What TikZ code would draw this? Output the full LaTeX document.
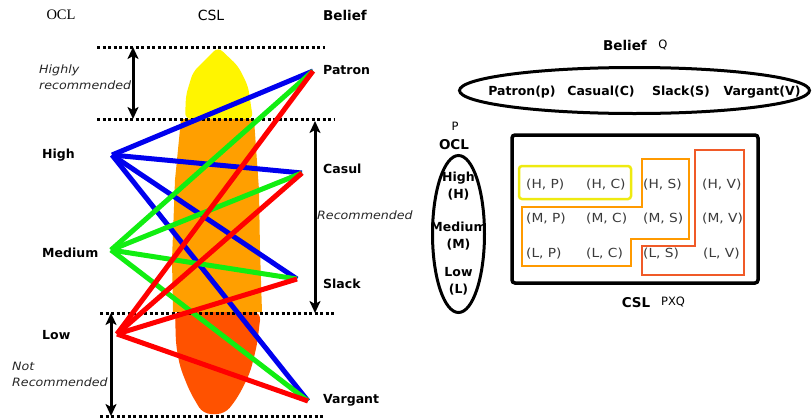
\documentclass[tikz,border=0pt]{standalone}
\usepackage{fontspec}
\setmainfont{DejaVu Sans}
\newfontfamily\headserif{Liberation Serif}
\newfontfamily\widesans[FakeStretch=1.1]{DejaVu Sans}
\usetikzlibrary{arrows.meta,shapes.geometric}

\definecolor{cslyellow}{HTML}{FFF500}
\definecolor{cslorange}{HTML}{FF9F00}
\definecolor{cslred}{HTML}{FF5200}
\definecolor{lnblue}{HTML}{0000EE}
\definecolor{lngreen}{HTML}{11EE11}
\definecolor{lnred}{HTML}{FF0000}
\definecolor{boxyellow}{HTML}{EEEA10}
\definecolor{boxorange}{HTML}{FF9A00}
\definecolor{boxred}{HTML}{F05A28}
\definecolor{celltext}{HTML}{3A3A3A}

\tikzset{
  boldlbl/.style={font=\bfseries\fontsize{12.5}{15}\selectfont, inner sep=0pt},
  headlbl/.style={font=\bfseries\fontsize{13.5}{15}\selectfont, inner sep=0pt},
  plainlbl/.style={font=\fontsize{11.5}{13}\selectfont, inner sep=0pt},
  zonelbl/.style={font=\widesans\itshape\fontsize{11.5}{16}\selectfont, text=black!85, inner sep=0pt, align=left},
  celllbl/.style={font=\widesans\fontsize{12.5}{14}\selectfont, text=celltext, inner sep=0pt, anchor=west},
  boundary/.style={line width=3pt, dash pattern=on 3pt off 2.5pt},
  span/.style={line width=3pt, arrows={Stealth[length=12pt,width=11pt,inset=3pt]-Stealth[length=12pt,width=11pt,inset=3pt]}},
  link/.style={line width=5pt},
  group/.style={line width=2.5pt},
}

\begin{document}
\begin{tikzpicture}[x=1pt,y=-1pt]
\useasboundingbox (0,0) rectangle (812,418);

% ---------- CSL level bands ----------
\fill[cslyellow, rounded corners=6pt]
  (185,119) -- (186,95) -- (193,72) -- (218,47) -- (238,66) -- (248,86) -- (253,119) -- cycle;
\fill[cslorange]
  (181,119) -- (175,180) -- (172,260) -- (173,312) -- (262,312) -- (260,250) -- (259,190) -- (254,119) -- cycle;
\fill[cslred, rounded corners=8pt]
  (175,312) -- (176,345) -- (180,367) -- (190,392) -- (203,414) -- (225,414) -- (238,397) -- (250,373) -- (257,345) -- (261,312) -- cycle;

% ---------- recommendation boundaries ----------
\draw[boundary] (97,47) -- (325,47);
\draw[boundary] (97,119) -- (335,119);
\draw[boundary] (100,313) -- (335,313);
\draw[boundary] (100,416) -- (325,416);

% ---------- headers ----------
\node[font=\headserif\fontsize{14.5}{16}\selectfont, inner sep=0pt] (hocl) at (61,15) {OCL};
\node[font=\fontsize{14}{16}\selectfont, inner sep=0pt] (hcsl) at (211,15) {CSL};
\node[headlbl] (hbel) at (345,15) {Belief};

% ---------- OCL and belief points ----------
\coordinate (hi) at (112,155);
\coordinate (me) at (111,250);
\coordinate (lo) at (117,334);
\coordinate (pa) at (313,71);
\coordinate (ca) at (302,173);
\coordinate (sl) at (297,279);
\coordinate (va) at (308,401);

\node[boldlbl, anchor=west] (thi) at (42,155) {High};
\node[boldlbl, anchor=west] (tme) at (42,253) {Medium};
\node[boldlbl, anchor=west] (tlo) at (42,335) {Low};
\node[boldlbl, anchor=west] (tpa) at (323,70) {Patron};
\node[boldlbl, anchor=west] (tca) at (323,169) {Casul};
\node[boldlbl, anchor=west] (tsl) at (323,284) {Slack};
\node[boldlbl, anchor=west] (tva) at (323,400) {Vargant};

% ---------- OCL to belief links ----------
\foreach \b in {pa,ca,sl,va} \draw[link, lnblue] (hi) -- (\b);
\foreach \b in {pa,ca,sl,va} \draw[link, lngreen] (me) -- (\b);
\foreach \b in {pa,ca,sl,va} \draw[link, lnred] (lo) -- (\b);

% ---------- zone spans ----------
\coordinate (hrtop) at (133,47);
\coordinate (hrbot) at (133,119);
\coordinate (rtop) at (315,121);
\coordinate (rbot) at (315,313);
\coordinate (nrtop) at (111,313);
\coordinate (nrbot) at (111,416);
\draw[span] (hrtop) -- (hrbot);
\draw[span] (rtop) -- (rbot);
\draw[span] (nrtop) -- (nrbot);

\node[zonelbl, anchor=west] (zhr) at (39,77) {Highly\\recommended};
\node[zonelbl, anchor=west] (zr) at (317,215) {Recommended};
\node[zonelbl, anchor=west] (znr) at (12,374) {Not\\Recommended};

% ---------- belief set Q ----------
\node[headlbl] (qbel) at (625,45) {Belief};
\node[plainlbl] (qsym) at (663,45) {Q};
\node[draw, ellipse, line width=3pt, minimum width=350pt, minimum height=46pt, inner sep=0pt] (qset) at (634.5,90.5) {};
\node[boldlbl] (qp) at (522,92) {Patron(p)};
\node[boldlbl] (qc) at (601,92) {Casual(C)};
\node[boldlbl] (qs) at (681,92) {Slack(S)};
\node[boldlbl] (qv) at (762,92) {Vargant(V)};

% ---------- OCL set P ----------
\node[plainlbl] (psym) at (455,126) {P};
\node[headlbl] (pocl) at (454,145) {OCL};
\node[draw, ellipse, line width=3pt, minimum width=52pt, minimum height=157pt, inner sep=0pt] (pset) at (458.5,234) {};
\node[boldlbl, align=center, font=\bfseries\fontsize{12.5}{17}\selectfont] (ph) at (458.5,186) {High\\(H)};
\node[boldlbl, align=center, font=\bfseries\fontsize{12.5}{17}\selectfont] (pm) at (458.5,236) {Medium\\(M)};
\node[boldlbl, align=center, font=\bfseries\fontsize{12.5}{17}\selectfont] (pl) at (458.5,281) {Low\\(L)};

% ---------- CSL = P x Q ----------
\draw[line width=3.5pt, rounded corners=3pt] (512,135) rectangle (758,283);
\draw[group, boxyellow, rounded corners=3pt] (519,166) rectangle (631,199);
\draw[group, boxorange]
  (522,266) -- (522,207) -- (642,207) -- (642,159) -- (689,159) -- (689,239) -- (631,239) -- (631,266) -- cycle;
\draw[group, boxred]
  (642,246) -- (695,246) -- (695,150) -- (744,150) -- (744,275) -- (642,275) -- cycle;

\node[celllbl] (hp) at (526,185) {(H, P)};
\node[celllbl] (hc) at (586,185) {(H, C)};
\node[celllbl] (hs) at (643,185) {(H, S)};
\node[celllbl] (hv) at (702,185) {(H, V)};
\node[celllbl] (mp) at (526,219) {(M, P)};
\node[celllbl] (mc) at (586,219) {(M, C)};
\node[celllbl] (ms) at (643,219) {(M, S)};
\node[celllbl] (mv) at (702,219) {(M, V)};
\node[celllbl] (lp) at (526,254) {(L, P)};
\node[celllbl] (lc) at (586,254) {(L, C)};
\node[celllbl] (ls) at (643,254) {(L, S)};
\node[celllbl] (lv) at (703,254) {(L, V)};

\node[headlbl] (rcsl) at (636,303) {CSL};
\node[plainlbl] (rpxq) at (673,302) {PXQ};
\end{tikzpicture}
\end{document}
